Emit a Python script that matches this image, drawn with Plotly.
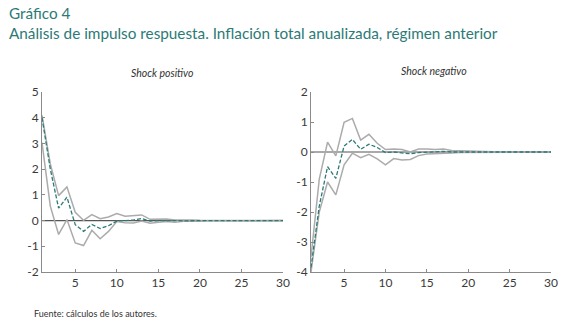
import plotly.graph_objects as go

periods = list(range(1, 31))

pos_mid = [4.0, 2.0, 0.48, 0.91, -0.16, -0.42, -0.15, -0.31, -0.2, -0.02, 0.0, 0.02, 0.08, -0.02, 0.0, 0.01,
           0.0, -0.01, 0.0, 0.0, 0.0, 0.0, 0.0, 0.0, 0.0, 0.0, 0.0, 0.0, 0.0, 0.0]
pos_up = [4.1, 2.2, 0.97, 1.31, 0.32, 0.01, 0.23, 0.07, 0.14, 0.27, 0.17, 0.2, 0.22, 0.05, 0.06, 0.06,
          0.02, 0.03, 0.02, 0.01, 0.01, 0.01, 0.0, 0.0, 0.0, 0.0, 0.0, 0.0, 0.0, 0.0]
pos_lo = [3.03, 0.56, -0.54, 0.04, -0.87, -0.97, -0.38, -0.71, -0.42, -0.04, -0.08, -0.09, -0.02, -0.1, -0.07, -0.04,
          -0.07, -0.03, -0.02, -0.03, -0.01, -0.01, -0.01, 0.0, 0.0, 0.0, 0.0, 0.0, 0.0, 0.0]

neg_mid = [-3.85, -1.8, -0.49, -0.88, 0.2, 0.42, 0.09, 0.26, 0.15, -0.02, 0.0, -0.04, -0.06, -0.02, -0.01, 0.0,
           0.02, 0.0, 0.0, -0.01, 0.0, 0.0, 0.0, 0.0, 0.0, 0.0, 0.0, 0.0, 0.0, 0.0]
neg_up = [-3.5, -0.9, 0.33, -0.13, 0.99, 1.12, 0.4, 0.59, 0.29, 0.08, 0.1, 0.08, 0.0, 0.1, 0.1, 0.08,
          0.1, 0.05, 0.04, 0.03, 0.01, 0.01, 0.01, 0.0, 0.0, 0.0, 0.0, 0.0, 0.0, 0.0]
neg_lo = [-4.0, -2.0, -1.0, -1.43, -0.43, -0.04, -0.19, -0.08, -0.23, -0.43, -0.22, -0.27, -0.25, -0.12, -0.07, -0.05,
          -0.04, -0.03, -0.02, -0.02, -0.02, -0.01, -0.01, 0.0, 0.0, 0.0, 0.0, 0.0, 0.0, 0.0]

x_ticks = [5, 10, 15, 20, 25, 30]
y1_ticks = [-2, -1, 0, 1, 2, 3, 4, 5]
y1_labels = ["-2", "-1", "0", "1", "2", "3", "4", "5"]
y2_ticks = [-4, -3, -2, -1, 0, 1, 2]
y2_labels = ["-4", "-3", "-2", "-1", "0", "1", "2"]

title_1 = "Gráfico 4"
title_2 = "Análisis de impulso respuesta. Inflación total anualizada, régimen anterior"
panel_titles = ["Shock positivo", "Shock negativo"]
source = "Fuente: cálculos de los autores."

teal = "#2c7a76"
band = "#ababab"
axis_c = "#8a8a8a"
font_f = "Lato, Open Sans, sans-serif"

fig = go.Figure()

panels = [
    ("x", "y", pos_up, pos_mid, pos_lo),
    ("x2", "y2", neg_up, neg_mid, neg_lo),
]
for xa, ya, up, mid, lo in panels:
    fig.add_trace(go.Scatter(x=periods, y=[0] * len(periods), xaxis=xa, yaxis=ya, mode="lines",
                             line=dict(color="#555555", width=1.2), hoverinfo="skip", showlegend=False))
    for s in (up, lo):
        fig.add_trace(go.Scatter(x=periods, y=s, xaxis=xa, yaxis=ya, mode="lines",
                                 line=dict(color=band, width=1.5), showlegend=False))
    fig.add_trace(go.Scatter(x=periods, y=mid, xaxis=xa, yaxis=ya, mode="lines",
                             line=dict(color=teal, width=1.3, dash="4px,2px"), showlegend=False))

H = 326
W = 570
yd = [(H - 272) / H, (H - 92) / H]

common_x = dict(range=[1, 30], tickvals=x_ticks, ticks="inside", ticklen=3,
                tickcolor=axis_c, showline=True, linecolor=axis_c, linewidth=1, showgrid=False,
                zeroline=False, automargin=False, tickfont=dict(family=font_f, size=12, color="#3a3a3a"))
common_y = dict(ticks="inside", ticklen=3, tickcolor=axis_c, showline=True, linecolor=axis_c,
                linewidth=1, showgrid=False, zeroline=False, automargin=False,
                tickfont=dict(family=font_f, size=12, color="#3a3a3a"), domain=yd)

fig.update_layout(
    width=W, height=H,
    margin=dict(l=0, r=0, t=0, b=0, pad=0),
    paper_bgcolor="white", plot_bgcolor="white",
    xaxis=dict(common_x, domain=[42 / W, 283 / W], anchor="y"),
    yaxis=dict(common_y, range=[-2, 5], anchor="x", tickvals=y1_ticks, ticktext=y1_labels),
    xaxis2=dict(common_x, domain=[311 / W, 551 / W], anchor="y2"),
    yaxis2=dict(common_y, range=[-4, 2], anchor="x2", tickvals=y2_ticks, ticktext=y2_labels),
    annotations=[
        dict(text=title_1, x=7 / W, y=1 - 13 / H, xref="paper", yref="paper", xanchor="left", yanchor="middle",
             showarrow=False, font=dict(family=font_f, size=15.3, color=teal)),
        dict(text=title_2, x=7 / W, y=1 - 33 / H, xref="paper", yref="paper", xanchor="left", yanchor="middle",
             showarrow=False, font=dict(family=font_f, size=15.3, color=teal)),
        dict(text="<i>" + panel_titles[0] + "</i>", x=162 / W, y=1 - 73 / H, xref="paper", yref="paper",
             xanchor="center", yanchor="middle", showarrow=False,
             font=dict(family=font_f, size=10.5, color="#333333")),
        dict(text="<i>" + panel_titles[1] + "</i>", x=434 / W, y=1 - 71 / H, xref="paper", yref="paper",
             xanchor="center", yanchor="middle", showarrow=False,
             font=dict(family=font_f, size=10.5, color="#333333")),
        dict(text=source, x=32 / W, y=1 - 313 / H, xref="paper", yref="paper", xanchor="left", yanchor="middle",
             showarrow=False, font=dict(family=font_f, size=9, color="#333333")),
    ],
)

fig.write_html("out.html", config={"displayModeBar": False},
               post_script="document.body.style.margin='0';")
